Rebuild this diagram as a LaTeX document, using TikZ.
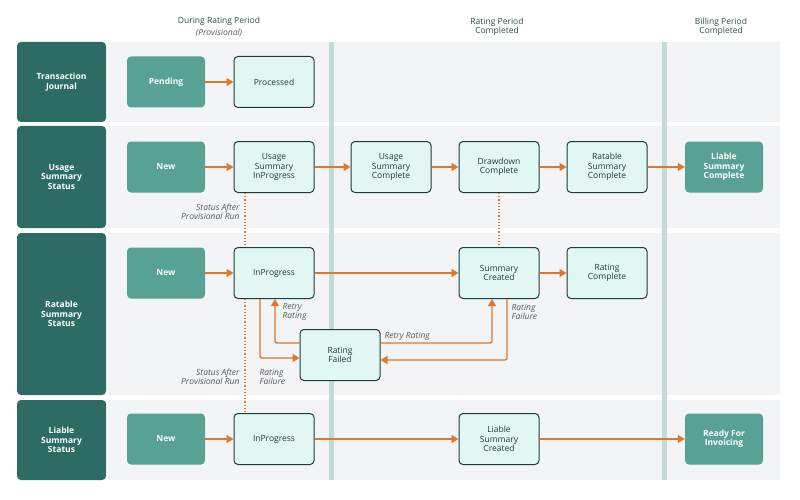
\documentclass[tikz,border=0pt]{standalone}
\usepackage{fontspec}
\setmainfont{Open Sans}
\usetikzlibrary{arrows.meta}
\definecolor{hdr}{HTML}{2D6C64}
\definecolor{dbox}{HTML}{58A195}
\definecolor{lbox}{HTML}{E0F7F4}
\definecolor{bord}{HTML}{1E3D38}
\definecolor{org}{HTML}{DF762A}
\definecolor{band}{HTML}{F3F4F6}
\definecolor{divi}{HTML}{BFDCD8}
\definecolor{ttl}{HTML}{2E4F4B}
\begin{document}
\begin{tikzpicture}[x=1pt,y=-1pt,
  every node/.style={font=\fontsize{8.5}{9.5}\selectfont, align=center},
  row/.style={fill=hdr, rounded corners=4pt, text=white, font=\fontsize{8.5}{9.5}\selectfont\bfseries},
  dk/.style={fill=dbox, rounded corners=4pt, minimum width=78pt, minimum height=51pt, text=white, font=\fontsize{8.5}{9.5}\selectfont\bfseries},
  lt/.style={fill=lbox, draw=bord, line width=1pt, rounded corners=4pt, minimum width=80pt, minimum height=51pt, text=bord},
  arr/.style={draw=org, line width=1.4pt, -{Triangle[length=7pt,width=8pt]}},
  dot/.style={draw=org, line width=1.2pt, dotted},
  note/.style={text=black!65, font=\fontsize{8.5}{9.5}\selectfont\itshape}]
\useasboundingbox (0,0) rectangle (800,500);
\fill[white] (0,0) rectangle (800,500);
% bands
\fill[band] (108,42) rectangle (780,122);
\fill[band] (108,126) rectangle (780,228);
\fill[band] (108,233) rectangle (780,395);
\fill[band] (108,400) rectangle (780,480);
\fill[divi] (329,42) rectangle (334,480);
\fill[divi] (662,42) rectangle (667,480);
% column titles
\node[text=ttl] at (219,21) {During Rating Period};
\node[note] at (219,33) {(Provisional)};
\node[text=ttl] at (497,27) {Rating Period\\[-1pt]Completed};
\node[text=ttl] at (721,27) {Billing Period\\[-1pt]Completed};
% row headers
\node[row, minimum width=89pt, minimum height=80pt] (h1) at (61.5,82) {Transaction\\Journal};
\node[row, minimum width=89pt, minimum height=102pt] (h2) at (61.5,177) {Usage\\Summary\\Status};
\node[row, minimum width=89pt, minimum height=162pt] (h3) at (61.5,314) {Ratable\\Summary\\Status};
\node[row, minimum width=89pt, minimum height=80pt] (h4) at (61.5,440) {Liable\\Summary\\Status};
% row 1
\node[dk] (pend) at (166,82) {Pending};
\node[lt] (proc) at (274,82) {Processed};
% row 2
\node[dk] (unew) at (166,167) {New};
\node[lt] (uinp) at (274,167) {Usage\\Summary\\InProgress};
\node[lt] (ucom) at (391,167) {Usage\\Summary\\Complete};
\node[lt] (ddc) at (499,167) {Drawdown\\Complete};
\node[lt] (rsc) at (607,167) {Ratable\\Summary\\Complete};
\node[dk] (lsc) at (724,167) {Liable\\Summary\\Complete};
% row 3
\node[dk] (rnew) at (166,273) {New};
\node[lt] (rinp) at (274,273) {InProgress};
\node[lt] (scr) at (499,273) {Summary\\Created};
\node[lt] (rcom) at (607,273) {Rating\\Complete};
\node[lt] (rfail) at (340,355) {Rating\\Failed};
% row 4
\node[dk] (lnew) at (166,439) {New};
\node[lt] (linp) at (274,439) {InProgress};
\node[lt] (lcr) at (499,439) {Liable\\Summary\\Created};
\node[dk] (rfi) at (724,439) {Ready For\\Invoicing};
% arrows
\draw[arr] (pend) -- (proc);
\draw[arr] (unew) -- (uinp);
\draw[arr] (uinp) -- (ucom);
\draw[arr] (ucom) -- (ddc);
\draw[arr] (ddc) -- (rsc);
\draw[arr] (rsc) -- (lsc);
\draw[arr] (rnew) -- (rinp);
\draw[arr] (rinp) -- (scr);
\draw[arr] (scr) -- (rcom);
\draw[arr] (lnew) -- (linp);
\draw[arr] (linp) -- (lcr);
\draw[arr] (lcr) -- (rfi);
% failure loops
\draw[arr, rounded corners=2pt] (rinp.south -| 260,0) |- (rfail.west |- 0,358);
\draw[arr, rounded corners=2pt] (rfail.west |- 0,343) -| (rinp.south -| 275,0);
\draw[arr, rounded corners=2pt] (rfail.east |- 0,343) -| (scr.south -| 492,0);
\draw[arr, rounded corners=2pt] (scr.south -| 507,0) |- (rfail.east |- 0,360);
\node[note, anchor=west, align=left] at (279,312) {Retry\\[-1pt]Rating};
\node[note, anchor=west, align=left] at (256,377) {Rating\\[-1pt]Failure};
\node[note, anchor=west] at (381,336) {Retry Rating};
\node[note, anchor=west, align=left] at (508,312) {Rating\\[-1pt]Failure};
% provisional run
\draw[dot] (uinp.south -| 245,0) -- (rinp.north -| 245,0);
\draw[dot] (rinp.south -| 245,0) -- (linp.north -| 245,0);
\draw[dot] (ddc) -- (scr);
\node[note, anchor=east, align=right] at (243,212) {Status After\\[-1pt]Provisional Run};
\node[note, anchor=east, align=right] at (243,377) {Status After\\[-1pt]Provisional Run};
\end{tikzpicture}
\end{document}
